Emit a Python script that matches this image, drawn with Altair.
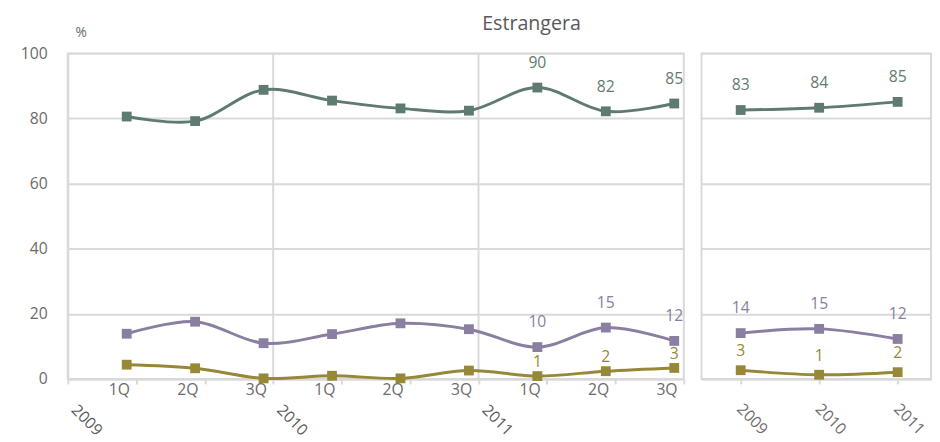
import altair as alt
import pandas as pd

years = ["2009", "2010", "2011"]
quarters = ["1Q", "2Q", "3Q"]
periods = [f"{y} {q}" for y in years for q in quarters]
series = ["Serie A", "Serie B", "Serie C"]
colors = ["#5f7b6f", "#8a7ea1", "#978838"]

# quarterly values (left panel)
green_q = [80.6, 79.2, 88.8, 85.5, 83.1, 82.4, 89.5, 82.2, 84.6]
purple_q = [13.9, 17.6, 11.0, 13.8, 17.1, 15.3, 9.8, 15.8, 11.7]
olive_q = [4.4, 3.3, 0.2, 1.0, 0.2, 2.6, 0.9, 2.4, 3.4]
green_q_lab = ["", "", "", "", "", "", "90", "82", "85"]
purple_q_lab = ["", "", "", "", "", "", "10", "15", "12"]
olive_q_lab = ["", "", "", "", "", "", "1", "2", "3"]

# yearly values (right panel)
green_y = [82.6, 83.3, 85.1]
purple_y = [14.1, 15.4, 12.3]
olive_y = [2.7, 1.3, 2.1]
green_y_lab = ["83", "84", "85"]
purple_y_lab = ["14", "15", "12"]
olive_y_lab = ["3", "1", "2"]

rows_q = []
for s, vals, labs in zip(series, [green_q, purple_q, olive_q], [green_q_lab, purple_q_lab, olive_q_lab]):
    for p, v, l in zip(periods, vals, labs):
        rows_q.append({"period": p, "series": s, "value": v, "label": l})
df_q = pd.DataFrame(rows_q)

rows_y = []
for s, vals, labs in zip(series, [green_y, purple_y, olive_y], [green_y_lab, purple_y_lab, olive_y_lab]):
    for yv, v, l in zip(years, vals, labs):
        rows_y.append({"year": yv, "series": s, "value": v, "label": l})
df_y = pd.DataFrame(rows_y)

df_years = pd.DataFrame({"period": [f"{y} 1Q" for y in years], "year": years})

FONT = "Open Sans"
GRID = "#d9d9d9"
TXT = "#6b6b6b"
FS = 16

color = alt.Color("series:N", scale=alt.Scale(domain=series, range=colors), legend=None)
yscale = alt.Scale(domain=[0, 100])

# ---------- left panel ----------
xq_axis = alt.Axis(
    title=None, labelExpr="split(datum.label, ' ')[1]", labelAngle=0,
    tickBand="extent", bandPosition=0.5, labelOffset=28, grid=False, tickSize=5,
    labelPadding=6,
)
xq = alt.X("period:N", sort=periods, bandPosition=0.86,
           scale=alt.Scale(type="band", paddingInner=0, paddingOuter=0), axis=xq_axis)
yq = alt.Y("value:Q", scale=yscale, axis=alt.Axis(
    values=[0, 20, 40, 60, 80, 100], title="%", titleAngle=0, titleX=13, titleY=-21,
    titleAlign="center", titleBaseline="middle", titleFontSize=14, titleFontWeight="normal",
    titleColor=TXT, titleFont=FONT, labelPadding=21, ticks=False))

base_q = alt.Chart(df_q)
rules_q = alt.Chart(df_years).mark_rule(color=GRID, strokeWidth=2).encode(
    x=alt.X("period:N", sort=periods, bandPosition=0))
year_text = alt.Chart(df_years).mark_text(
    angle=45, align="left", baseline="top", fontSize=FS, font=FONT, color="#595959", dx=11, dy=-6
).encode(x=alt.X("period:N", sort=periods, bandPosition=0), y=alt.value(352), text="year:N")
line_q = base_q.mark_line(interpolate="catmull-rom", strokeWidth=3).encode(x=xq, y=yq, color=color)
pts_q = base_q.mark_point(shape="square", filled=True, size=100, opacity=1).encode(x=xq, y=yq, color=color)
lab_q = base_q.transform_filter(alt.datum.series != "Serie C").mark_text(
    dy=-25, fontSize=FS, font=FONT).encode(x=xq, y=yq, text="label:N", color=color)
lab_q2 = base_q.transform_filter(alt.datum.series == "Serie C").mark_text(
    dy=-14, fontSize=FS, font=FONT).encode(x=xq, y=yq, text="label:N", color=color)

left = alt.layer(rules_q, line_q, pts_q, lab_q, lab_q2, year_text).properties(width=628, height=332)

# ---------- right panel ----------
xy = alt.X("year:N", sort=years, scale=alt.Scale(type="point", padding=0.4625, align=0.54),
           axis=alt.Axis(title=None, labelAngle=45, labelAlign="left", labelBaseline="top",
                         labelPadding=17, labelOffset=4, tickSize=5, grid=False))
yy = alt.Y("value:Q", scale=yscale, axis=alt.Axis(
    values=[0, 20, 40, 60, 80, 100], title=None, labels=False, ticks=False, domain=False))
base_y = alt.Chart(df_y)
line_y = base_y.mark_line(interpolate="catmull-rom", strokeWidth=3).encode(x=xy, y=yy, color=color)
pts_y = base_y.mark_point(shape="square", filled=True, size=100, opacity=1).encode(x=xy, y=yy, color=color)
lab_y_a = base_y.transform_filter(alt.datum.series != "Serie C").mark_text(
    dy=-25, fontSize=FS, font=FONT).encode(x=xy, y=yy, text="label:N", color=color)
lab_y_b = base_y.transform_filter(alt.datum.series == "Serie C").mark_text(
    dy=-19, fontSize=FS, font=FONT).encode(x=xy, y=yy, text="label:N", color=color)
right = alt.layer(line_y, pts_y, lab_y_a, lab_y_b).properties(width=234, height=332)

chart = alt.hconcat(left, right, spacing=15).properties(
    title=alt.Title("Estrangera", fontSize=20, fontWeight="normal", color="#595959",
                    font=FONT, anchor="middle", dx=57, offset=-9),
    padding={"left": 11, "top": 2, "right": 0, "bottom": 0},
).configure_view(stroke=GRID, strokeWidth=2).configure_axis(
    gridColor=GRID, gridWidth=2, domainColor=GRID, domainWidth=2, tickColor=GRID, tickWidth=2,
    labelFont=FONT, labelFontSize=FS, labelColor=TXT,
)

chart.save("out.html", embed_options={"renderer": "svg", "actions": False})
